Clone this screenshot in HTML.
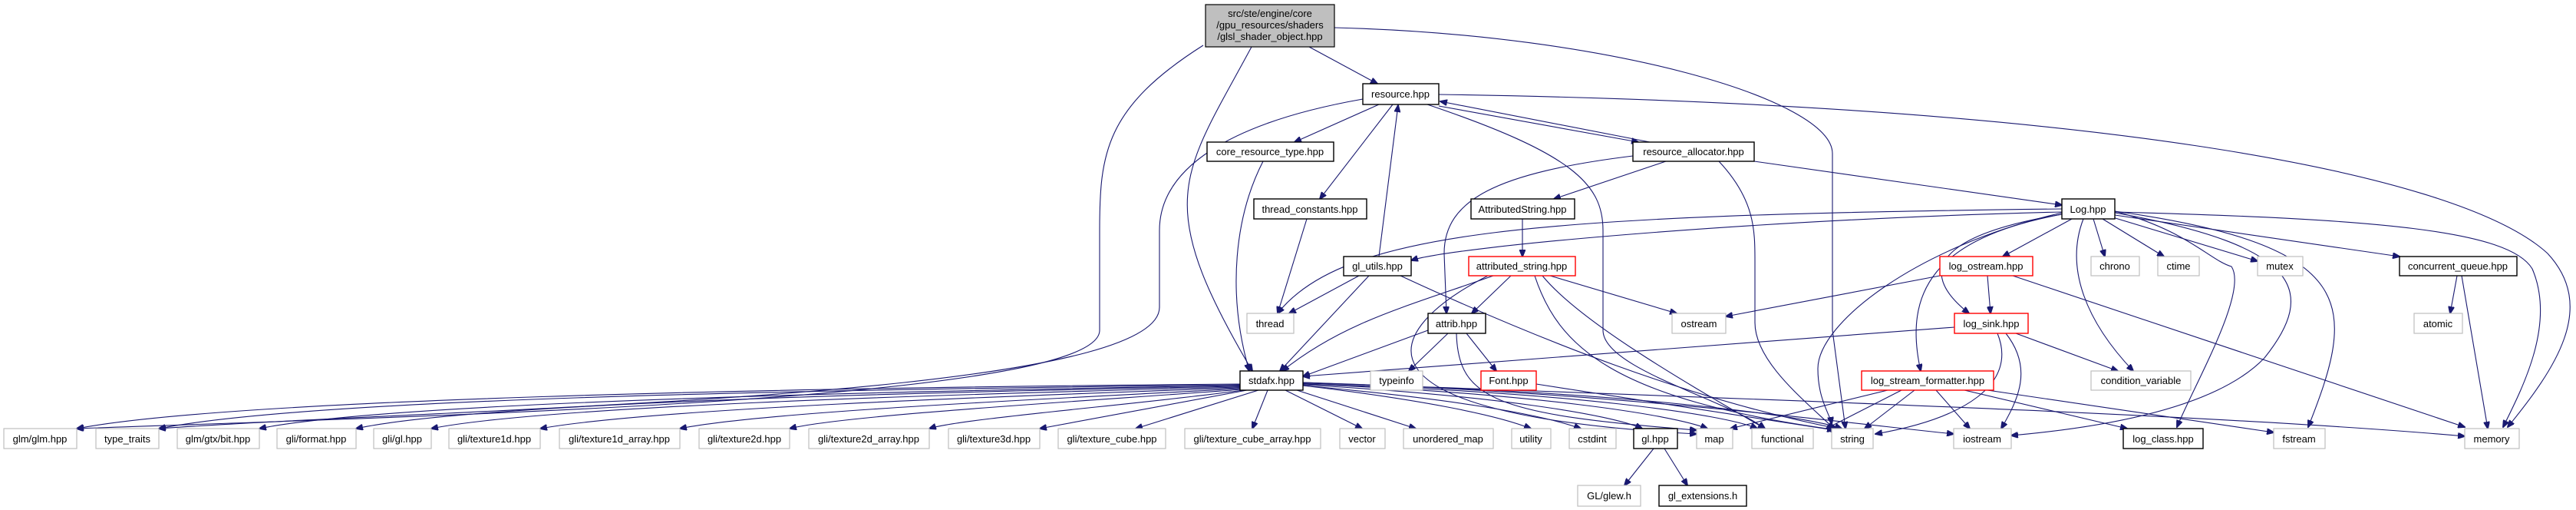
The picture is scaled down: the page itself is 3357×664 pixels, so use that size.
<!DOCTYPE html>
<html><head><meta charset="utf-8"><style>
html,body{margin:0;padding:0;background:#fff;}
svg{display:block;}
text{font-family:"Liberation Sans",Arial,sans-serif;font-size:13px;fill:#000;}
.n rect{fill:#fff;stroke:#bfbfbf;stroke-width:1.2;}
.b rect{stroke:#000;stroke-width:1.4;}
.r rect{stroke:#ff0000;stroke-width:1.4;}
path{fill:none;stroke:#191970;stroke-width:1.1;}
</style></head><body>
<svg width="3357" height="664" viewBox="0 0 3357 664" xmlns="http://www.w3.org/2000/svg">
<defs><marker id="a" markerWidth="10" markerHeight="8" refX="9" refY="4" orient="auto" markerUnits="userSpaceOnUse"><path d="M0,0 L10,4 L0,8 z" style="fill:#191970;stroke:#191970"/></marker></defs>
<g marker-end="url(#a)">
<!-- root -->
<path d="M1706 61 L1795 109"/>
<path d="M1631 61 C1540 230,1500 260,1632 483"/>
<path d="M1568 59 C1440 140,1433 200,1433 300 L1433 430 C1433 520,600 540,100 558"/>
<path d="M1739 36 C2100 45,2388 130,2388 200 L2388 430 L2405 558"/>
<!-- resource.hpp -->
<path d="M1797 136 L1687 185"/>
<path d="M1815 136 L1720 259"/>
<path d="M1875 138 L2135 185"/>
<path d="M1776 129 C1600 160,1511 220,1511 300 L1511 400 C1511 520,600 530,207 558"/>
<path d="M1860 136 C2050 200,2089 240,2089 300 L2089 430 C2089 480,2250 520,2300 558"/>
<path d="M1875 123 C2700 135,3200 220,3320 330 C3385 400,3330 480,3268 556"/>
<!-- resource_allocator -->
<path d="M2150 185 L1877 132"/>
<path d="M2286 210 L2687 267"/>
<path d="M2171 210 L2025 259"/>
<path d="M2128 203 C1950 225,1882 260,1882 330 L1885 408"/>
<path d="M2240 210 C2287 260,2287 300,2287 340 L2287 420 C2287 470,2350 520,2390 558"/>
<!-- others -->
<path d="M1646 210 C1610 280,1598 380,1628 483"/>
<path d="M1703 285 L1665 408"/>
<path d="M1797 334 L1822 137"/>
<path d="M1771 359 L1680 408"/>
<path d="M1784 359 L1668 483"/>
<path d="M1825 359 C2000 440,2200 520,2395 558"/>
<path d="M1984 285 L1984 334"/>
<path d="M1946 359 C1830 400,1750 420,1671 483"/>
<path d="M1969 359 L1918 408"/>
<path d="M2020 359 L2185 408"/>
<path d="M2000 359 C2030 450,2100 520,2395 560"/>
<path d="M2010 359 C2060 420,2200 500,2300 558"/>
<path d="M1939 359 C1800 430,1740 540,2211 565"/>
<path d="M1861 430 L1698 490"/>
<path d="M1887 434 L1836 483"/>
<path d="M1911 434 L1950 483"/>
<path d="M1898 434 C1900 520,1950 540,2211 560"/>
<path d="M2002 500 L2390 560"/>
<!-- Log.hpp -->
<path d="M2687 276 C2300 285,1900 320,1839 339"/>
<path d="M2687 272 C2000 280,1750 300,1665 408"/>
<path d="M2700 285 L2610 334"/>
<path d="M2728 285 L2743 334"/>
<path d="M2740 285 L2820 334"/>
<path d="M2750 282 L2942 340"/>
<path d="M2756 280 L3127 334"/>
<path d="M2756 276 C3100 285,3270 300,3300 350 C3330 420,3290 500,3262 556"/>
<path d="M2687 279 C2560 300,2480 340,2566 408"/>
<path d="M2687 279 C2520 310,2480 380,2503 483"/>
<path d="M2715 285 C2690 350,2720 420,2780 483"/>
<path d="M2687 277 C2500 320,2369 420,2369 480 C2369 520,2385 540,2387 552"/>
<path d="M2756 277 C3000 320,3020 380,2951 466 C2880 540,2700 560,2621 567"/>
<path d="M2756 275 C2850 300,2880 339,2908 347 C2930 380,2860 500,2837 556"/>
<path d="M2756 275 C3080 320,3070 400,3008 556"/>
<path d="M2528 359 L2249 412"/>
<path d="M2590 359 L2594 408"/>
<path d="M2623 359 L3212 556"/>
<path d="M2547 426 L1698 490"/>
<path d="M2627 434 L2760 483"/>
<path d="M2603 434 C2630 500,2560 545,2444 565"/>
<path d="M2614 434 C2650 480,2630 520,2608 558"/>
<path d="M2460 508 L2255 558"/>
<path d="M2478 508 L2380 558"/>
<path d="M2495 508 L2430 558"/>
<path d="M2523 508 L2567 558"/>
<path d="M2560 508 L2772 558"/>
<path d="M2590 508 L2963 563"/>
<path d="M3202 359 L3193 408"/>
<path d="M3208 359 L3242 558"/>
<path d="M2155 584 L2117 632"/>
<path d="M2169 584 L2199 632"/>
<!-- stdafx -->
<path d="M1616 500 C1000 505,300 520,100 558"/>
<path d="M1616 501 C1000 508,400 520,207 558"/>
<path d="M1616 502 C1100 510,500 525,338 558"/>
<path d="M1616 503 C1100 512,600 528,464 558"/>
<path d="M1616 504 C1200 514,700 530,562 558"/>
<path d="M1616 505 C1300 516,850 532,704 558"/>
<path d="M1616 506 C1400 518,1000 535,886 558"/>
<path d="M1618 507 C1450 520,1100 540,1029 558"/>
<path d="M1620 508 C1500 525,1250 545,1211 558"/>
<path d="M1625 508 L1355 558"/>
<path d="M1640 508 L1480 558"/>
<path d="M1652 508 L1632 558"/>
<path d="M1675 508 L1775 558"/>
<path d="M1690 508 L1845 558"/>
<path d="M1698 502 C1850 520,1950 540,1995 558"/>
<path d="M1698 502 C1900 520,2010 540,2060 558"/>
<path d="M1698 501 C1950 515,2100 540,2140 558"/>
<path d="M1698 500 C2000 512,2180 540,2225 558"/>
<path d="M1698 500 C2050 510,2250 540,2290 558"/>
<path d="M1698 499 C2100 508,2350 540,2400 558"/>
<path d="M1698 498 C2100 510,2400 550,2546 565"/>
<path d="M1698 498 C2300 520,2900 540,3212 568"/>
</g>
<!-- nodes -->
<g class="n"><rect x="1571" y="6" width="168" height="55" style="fill:#bfbfbf;stroke:#000"/>
<text x="1655" y="22" text-anchor="middle">src/ste/engine/core</text>
<text x="1655" y="37" text-anchor="middle">/gpu_resources/shaders</text>
<text x="1655" y="52" text-anchor="middle">/glsl_shader_object.hpp</text></g>
<g class="n b"><rect x="1776" y="109" width="99" height="27"/><text x="1825" y="127" text-anchor="middle">resource.hpp</text></g>
<g class="n b"><rect x="1573" y="185" width="165" height="25"/><text x="1655" y="202" text-anchor="middle">core_resource_type.hpp</text></g>
<g class="n b"><rect x="2128" y="185" width="158" height="25"/><text x="2207" y="202" text-anchor="middle">resource_allocator.hpp</text></g>
<g class="n b"><rect x="1634" y="259" width="147" height="26"/><text x="1707" y="277" text-anchor="middle">thread_constants.hpp</text></g>
<g class="n b"><rect x="1917" y="259" width="135" height="26"/><text x="1984" y="277" text-anchor="middle">AttributedString.hpp</text></g>
<g class="n b"><rect x="2687" y="259" width="69" height="26"/><text x="2721" y="277" text-anchor="middle">Log.hpp</text></g>
<g class="n b"><rect x="1751" y="334" width="88" height="25"/><text x="1795" y="351" text-anchor="middle">gl_utils.hpp</text></g>
<g class="n r"><rect x="1914" y="334" width="139" height="25"/><text x="1983" y="351" text-anchor="middle">attributed_string.hpp</text></g>
<g class="n r"><rect x="2528" y="334" width="121" height="25"/><text x="2588" y="351" text-anchor="middle">log_ostream.hpp</text></g>
<g class="n"><rect x="2725" y="334" width="63" height="25"/><text x="2756" y="351" text-anchor="middle">chrono</text></g>
<g class="n"><rect x="2812" y="334" width="54" height="25"/><text x="2839" y="351" text-anchor="middle">ctime</text></g>
<g class="n"><rect x="2942" y="334" width="59" height="25"/><text x="2971" y="351" text-anchor="middle">mutex</text></g>
<g class="n b"><rect x="3127" y="334" width="153" height="25"/><text x="3203" y="351" text-anchor="middle">concurrent_queue.hpp</text></g>
<g class="n"><rect x="1625" y="408" width="61" height="26"/><text x="1655" y="426" text-anchor="middle">thread</text></g>
<g class="n b"><rect x="1861" y="408" width="75" height="26"/><text x="1898" y="426" text-anchor="middle">attrib.hpp</text></g>
<g class="n"><rect x="2179" y="408" width="70" height="26"/><text x="2214" y="426" text-anchor="middle">ostream</text></g>
<g class="n r"><rect x="2547" y="408" width="96" height="26"/><text x="2595" y="426" text-anchor="middle">log_sink.hpp</text></g>
<g class="n"><rect x="3146" y="408" width="63" height="26"/><text x="3177" y="426" text-anchor="middle">atomic</text></g>
<g class="n b"><rect x="1616" y="483" width="82" height="25"/><text x="1657" y="500" text-anchor="middle">stdafx.hpp</text></g>
<g class="n"><rect x="1786" y="483" width="68" height="25"/><text x="1820" y="500" text-anchor="middle">typeinfo</text></g>
<g class="n r"><rect x="1930" y="483" width="72" height="25"/><text x="1966" y="500" text-anchor="middle">Font.hpp</text></g>
<g class="n r"><rect x="2426" y="483" width="172" height="25"/><text x="2512" y="500" text-anchor="middle">log_stream_formatter.hpp</text></g>
<g class="n"><rect x="2725" y="483" width="130" height="25"/><text x="2790" y="500" text-anchor="middle">condition_variable</text></g>
<!-- bottom row -->
<g class="n"><rect x="5" y="558" width="95" height="26"/><text x="52" y="576" text-anchor="middle">glm/glm.hpp</text></g>
<g class="n"><rect x="125" y="558" width="82" height="26"/><text x="166" y="576" text-anchor="middle">type_traits</text></g>
<g class="n"><rect x="231" y="558" width="107" height="26"/><text x="284" y="576" text-anchor="middle">glm/gtx/bit.hpp</text></g>
<g class="n"><rect x="361" y="558" width="103" height="26"/><text x="412" y="576" text-anchor="middle">gli/format.hpp</text></g>
<g class="n"><rect x="487" y="558" width="75" height="26"/><text x="524" y="576" text-anchor="middle">gli/gl.hpp</text></g>
<g class="n"><rect x="585" y="558" width="119" height="26"/><text x="644" y="576" text-anchor="middle">gli/texture1d.hpp</text></g>
<g class="n"><rect x="729" y="558" width="157" height="26"/><text x="807" y="576" text-anchor="middle">gli/texture1d_array.hpp</text></g>
<g class="n"><rect x="911" y="558" width="118" height="26"/><text x="970" y="576" text-anchor="middle">gli/texture2d.hpp</text></g>
<g class="n"><rect x="1054" y="558" width="157" height="26"/><text x="1132" y="576" text-anchor="middle">gli/texture2d_array.hpp</text></g>
<g class="n"><rect x="1236" y="558" width="119" height="26"/><text x="1295" y="576" text-anchor="middle">gli/texture3d.hpp</text></g>
<g class="n"><rect x="1379" y="558" width="140" height="26"/><text x="1449" y="576" text-anchor="middle">gli/texture_cube.hpp</text></g>
<g class="n"><rect x="1544" y="558" width="177" height="26"/><text x="1632" y="576" text-anchor="middle">gli/texture_cube_array.hpp</text></g>
<g class="n"><rect x="1746" y="558" width="59" height="26"/><text x="1775" y="576" text-anchor="middle">vector</text></g>
<g class="n"><rect x="1829" y="558" width="117" height="26"/><text x="1887" y="576" text-anchor="middle">unordered_map</text></g>
<g class="n"><rect x="1970" y="558" width="51" height="26"/><text x="1995" y="576" text-anchor="middle">utility</text></g>
<g class="n"><rect x="2045" y="558" width="61" height="26"/><text x="2075" y="576" text-anchor="middle">cstdint</text></g>
<g class="n b"><rect x="2129" y="558" width="57" height="26"/><text x="2157" y="576" text-anchor="middle">gl.hpp</text></g>
<g class="n"><rect x="2211" y="558" width="47" height="26"/><text x="2234" y="576" text-anchor="middle">map</text></g>
<g class="n"><rect x="2283" y="558" width="80" height="26"/><text x="2323" y="576" text-anchor="middle">functional</text></g>
<g class="n"><rect x="2387" y="558" width="54" height="26"/><text x="2414" y="576" text-anchor="middle">string</text></g>
<g class="n"><rect x="2546" y="558" width="75" height="26"/><text x="2583" y="576" text-anchor="middle">iostream</text></g>
<g class="n b"><rect x="2767" y="558" width="104" height="26"/><text x="2819" y="576" text-anchor="middle">log_class.hpp</text></g>
<g class="n"><rect x="2963" y="558" width="67" height="26"/><text x="2996" y="576" text-anchor="middle">fstream</text></g>
<g class="n"><rect x="3212" y="558" width="71" height="26"/><text x="3247" y="576" text-anchor="middle">memory</text></g>
<g class="n"><rect x="2056" y="632" width="82" height="27"/><text x="2097" y="650" text-anchor="middle">GL/glew.h</text></g>
<g class="n b"><rect x="2162" y="632" width="114" height="27"/><text x="2219" y="650" text-anchor="middle">gl_extensions.h</text></g>
</svg>
</body></html>
